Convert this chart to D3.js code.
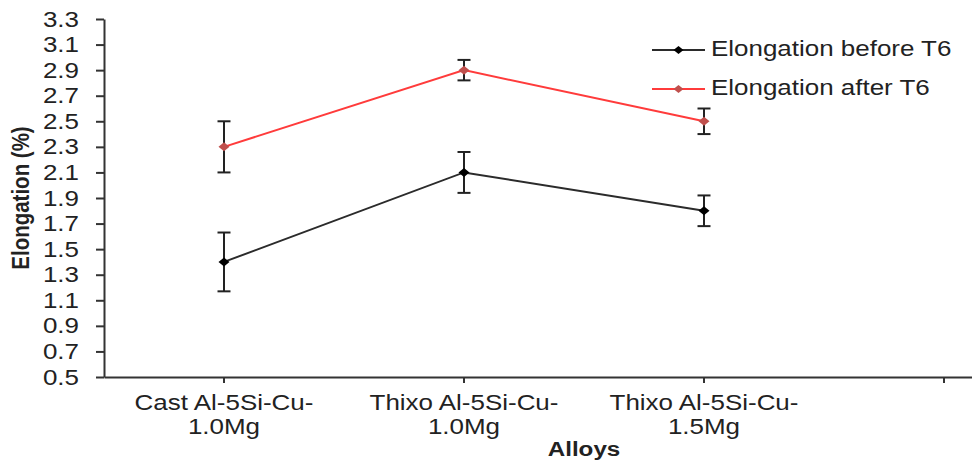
<!DOCTYPE html>
<html lang="en">
    <head>
        <meta charset="utf-8">
        <script type="text/javascript" src="https://cdn.jsdelivr.net/npm/d3@7"></script>
        <title>Elongation before and after T6</title>
        <style>
            body { margin: 0; background: #fff; }
            text { font-family: "Liberation Sans", Arial, sans-serif; fill: #222; }
        </style>
    </head>
    <body>
        <script type="text/javascript">
            var w = 972;
            var h = 464;

            // data
            var categories = ["Cast Al-5Si-Cu-1.0Mg", "Thixo Al-5Si-Cu-1.0Mg", "Thixo Al-5Si-Cu-1.5Mg", ""];
            var tickLines = [["Cast Al-5Si-Cu-", "1.0Mg"], ["Thixo Al-5Si-Cu-", "1.0Mg"], ["Thixo Al-5Si-Cu-", "1.5Mg"], []];
            var beforeT6 = [1.4, 2.1, 1.8];
            var beforeErr = [0.23, 0.16, 0.12];
            var afterT6 = [2.3, 2.9, 2.5];
            var afterErr = [0.2, 0.08, 0.1];
            var yTicks = [0.5, 0.7, 0.9, 1.1, 1.3, 1.5, 1.7, 1.9, 2.1, 2.3, 2.5, 2.7, 2.9, 3.1, 3.3];
            var seriesNames = ["Elongation before T6", "Elongation after T6"];

            var stretch = 1.18; // the picture text is a bit wide
            var fontSize = 22;

            var series = [
                {name: seriesNames[0], values: beforeT6, err: beforeErr, line: "#2b2b2b", marker: "#000"},
                {name: seriesNames[1], values: afterT6, err: afterErr, line: "#ff3b3b", marker: "#c0504d"}
            ];

            // Scale definitions
            var xScale = d3.scaleBand()
                            .domain(categories)
                            .range([104, 1064]); // last band runs off the page, like the reference

            var yScale = d3.scaleLinear()
                            .domain([0.5, 3.3])
                            .range([377, 19]);

            function cx(i) { return xScale(categories[i]) + xScale.bandwidth() / 2; }

            function diamond(hw, hh) {
                return "M0," + (-hh) + "L" + hw + ",0L0," + hh + "L" + (-hw) + ",0Z";
            }

            var svg = d3.select("body")
                        .append("svg")
                        .attr("width", w)
                        .attr("height", h);

            // y axis
            var yAxis = svg.append("g")
                .attr("transform", "translate(104,0)")
                .call(d3.axisLeft(yScale).tickValues(yTicks).tickFormat(d3.format(".1f"))
                        .tickSize(8).tickSizeOuter(0).tickPadding(17));
            yAxis.selectAll("path, line").attr("stroke", "#333").attr("stroke-width", 2);
            yAxis.selectAll("text")
                .attr("font-size", fontSize + "px")
                .attr("font-family", null)
                .attr("fill", "#222")
                .attr("x", -25 / stretch)
                .attr("transform", "scale(" + stretch + ",1)");

            // x axis
            var xAxis = svg.append("g")
                .attr("transform", "translate(0,377)")
                .call(d3.axisBottom(xScale).tickSize(6).tickSizeOuter(0).tickFormat(""));
            xAxis.selectAll("path, line").attr("stroke", "#333").attr("stroke-width", 2);
            xAxis.selectAll(".tick text")
                .attr("font-size", fontSize + "px")
                .attr("font-family", null)
                .attr("fill", "#222")
                .attr("y", 0)
                .attr("dy", null)
                .attr("transform", "scale(" + stretch + ",1)")
                .each(function(d, i) {
                    d3.select(this).selectAll("tspan")
                        .data(tickLines[i])
                        .enter()
                        .append("tspan")
                        .attr("x", 0)
                        .attr("y", function(t, j) { return 33 + j * 24; })
                        .text(function(t) { return t; });
                });

            // axis titles
            svg.append("text")
                .attr("transform", "translate(584,456) scale(" + stretch + ",1)")
                .attr("text-anchor", "middle")
                .attr("font-size", "20.5px")
                .attr("font-weight", "bold")
                .text("Alloys");

            svg.append("text")
                .attr("transform", "translate(29,198) scale(" + stretch + ",1) rotate(-90)")
                .attr("text-anchor", "middle")
                .attr("font-size", "20.5px")
                .attr("font-weight", "bold")
                .text("Elongation (%)");

            // lines
            var line = d3.line()
                .x(function(d, i) { return cx(i); })
                .y(function(d) { return yScale(d); });

            series.forEach(function(s) {
                svg.append("path")
                    .datum(s.values)
                    .attr("d", line)
                    .attr("fill", "none")
                    .attr("stroke", s.line)
                    .attr("stroke-width", 2);
            });

            // error bars and markers
            series.forEach(function(s) {
                var g = svg.append("g");
                var bars = g.selectAll("g.err")
                    .data(s.values)
                    .enter()
                    .append("g")
                    .attr("class", "err");
                bars.append("line")
                    .attr("x1", function(d, i) { return cx(i); })
                    .attr("x2", function(d, i) { return cx(i); })
                    .attr("y1", function(d, i) { return yScale(d + s.err[i]); })
                    .attr("y2", function(d, i) { return yScale(d - s.err[i]); });
                bars.append("line")
                    .attr("x1", function(d, i) { return cx(i) - 6.5; })
                    .attr("x2", function(d, i) { return cx(i) + 6.5; })
                    .attr("y1", function(d, i) { return yScale(d + s.err[i]); })
                    .attr("y2", function(d, i) { return yScale(d + s.err[i]); });
                bars.append("line")
                    .attr("x1", function(d, i) { return cx(i) - 6.5; })
                    .attr("x2", function(d, i) { return cx(i) + 6.5; })
                    .attr("y1", function(d, i) { return yScale(d - s.err[i]); })
                    .attr("y2", function(d, i) { return yScale(d - s.err[i]); });
                bars.selectAll("line")
                    .attr("stroke", "#222")
                    .attr("stroke-width", 2);

                g.selectAll("path")
                    .data(s.values)
                    .enter()
                    .append("path")
                    .attr("d", diamond(5.5, 4.5))
                    .attr("transform", function(d, i) { return "translate(" + cx(i) + "," + yScale(d) + ")"; })
                    .attr("fill", s.marker);
            });

            // legend
            var legend = svg.selectAll("g.legend")
                .data(series)
                .enter()
                .append("g")
                .attr("class", "legend")
                .attr("transform", function(d, i) { return "translate(652," + (50 + i * 39) + ")"; });
            legend.append("line")
                .attr("x1", 0)
                .attr("x2", 53)
                .attr("stroke", function(d) { return d.line; })
                .attr("stroke-width", 2);
            legend.append("path")
                .attr("d", diamond(5, 4))
                .attr("transform", "translate(26.5,0)")
                .attr("fill", function(d) { return d.marker; });
            legend.append("text")
                .attr("transform", "translate(59,6) scale(" + stretch + ",1)")
                .attr("font-size", fontSize + "px")
                .text(function(d) { return d.name; });
        </script>
    </body>
</html>
